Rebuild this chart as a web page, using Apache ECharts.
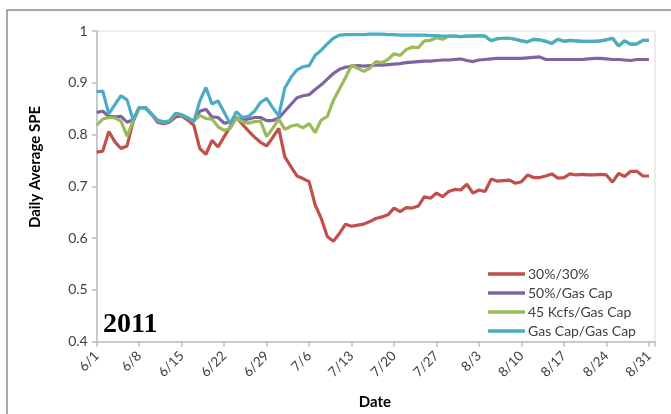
<!DOCTYPE html>
<html><head><meta charset="utf-8">
<script src="https://cdn.jsdelivr.net/npm/echarts@6/dist/echarts.min.js"></script>
<style>html,body{margin:0;padding:0;background:#fff}#c{width:671px;height:414px}</style>
</head><body><div id="c"></div>
<script>
const xTickLabels = ['6/1','6/8','6/15','6/22','6/29','7/6','7/13','7/20','7/27','8/3','8/10','8/17','8/24','8/31'];
const yTickLabels = ['0.4','0.5','0.6','0.7','0.8','0.9','1'];
const seriesNames = ['30%/30%','50%/Gas Cap','45 Kcfs/Gas Cap','Gas Cap/Gas Cap'];
const s30_30 = [.766,.768,.806,.786,.773,.778,.825,.852,.852,.84,.824,.821,.824,.834,.836,.828,.818,.773,.762,.789,.776,.796,.815,.833,.82,.807,.795,.785,.778,.794,.812,.757,.738,.72,.715,.709,.664,.638,.603,.594,.609,.627,.623,.625,.627,.632,.638,.641,.645,.658,.651,.659,.658,.662,.68,.677,.687,.68,.69,.694,.693,.704,.687,.693,.69,.714,.71,.711,.712,.706,.709,.722,.717,.717,.72,.724,.716,.717,.724,.722,.723,.722,.722,.723,.722,.708,.725,.719,.729,.729,.72,.72];
const s50_gas = [.843,.845,.835,.834,.835,.824,.828,.852,.852,.84,.827,.824,.826,.84,.838,.832,.826,.845,.849,.834,.833,.822,.824,.832,.828,.83,.833,.833,.827,.827,.832,.845,.858,.871,.875,.877,.887,.896,.907,.918,.926,.93,.932,.933,.932,.933,.934,.934,.935,.936,.937,.939,.94,.941,.942,.942,.943,.944,.944,.945,.946,.943,.941,.944,.945,.946,.947,.947,.947,.947,.947,.948,.949,.95,.945,.945,.945,.945,.945,.945,.945,.946,.947,.947,.946,.945,.945,.944,.943,.945,.945,.945];
const s45k_gas = [.818,.83,.833,.832,.826,.797,.826,.852,.852,.84,.827,.824,.826,.84,.838,.832,.826,.837,.831,.83,.815,.808,.812,.831,.825,.822,.825,.826,.796,.812,.83,.81,.816,.819,.813,.821,.804,.828,.835,.866,.888,.91,.934,.928,.922,.928,.941,.939,.945,.956,.953,.964,.969,.968,.981,.982,.987,.984,.99,.99,.989,.99,.99,.991,.99,.981,.985,.986,.986,.984,.981,.979,.984,.983,.98,.976,.984,.98,.982,.981,.98,.98,.98,.981,.983,.986,.971,.981,.974,.975,.982,.982];
const sGas_gas = [.883,.884,.84,.858,.875,.867,.828,.852,.852,.84,.828,.824,.826,.841,.838,.832,.825,.865,.891,.859,.865,.843,.821,.844,.833,.835,.845,.862,.87,.852,.836,.89,.91,.925,.931,.933,.953,.963,.975,.986,.992,.993,.993,.993,.993,.994,.994,.994,.993,.993,.992,.992,.992,.992,.992,.991,.991,.99,.99,.99,.989,.99,.99,.991,.99,.981,.985,.986,.986,.984,.981,.979,.984,.983,.98,.976,.984,.98,.982,.981,.98,.98,.98,.981,.983,.986,.971,.981,.974,.975,.982,.982];
const colors = ['#C0504D','#8064A2','#9BBB59','#4BACC6'];
const allSeries = [s30_30, s50_gas, s45k_gas, sGas_gas];

const FONT = 'Lato, "Open Sans", sans-serif';
const chart = echarts.init(document.getElementById('c'), null, {renderer:'canvas'});
chart.setOption({
  animation:false,
  backgroundColor:'#fff',
  grid:{left:96.7, right:16, top:31, bottom:72.3, show:true, borderColor:'#d9d9d9', borderWidth:1, containLabel:false},
  xAxis:{type:'value', min:0, max:92, interval:7,
    axisLine:{show:true, lineStyle:{color:'#bfbfbf', width:1.5}},
    axisTick:{show:true, length:5, lineStyle:{color:'#bfbfbf', width:1.5}},
    splitLine:{show:false},
    axisLabel:{rotate:45, margin:12, color:'#404040', fontFamily:FONT, fontSize:13.5,
      formatter:function(v){ const i=Math.round(v/7); return (v%7===0 && i<xTickLabels.length)? xTickLabels[i] : ''; }}
  },
  yAxis:{type:'value', min:0.4, max:1, interval:0.1,
    axisLine:{show:true, lineStyle:{color:'#bfbfbf', width:1.5}},
    axisTick:{show:true, length:5, lineStyle:{color:'#bfbfbf', width:1.5}},
    splitLine:{show:false},
    axisLabel:{margin:9, color:'#404040', fontFamily:FONT, fontSize:14,
      formatter:function(v){ const i=Math.round((v-0.4)*10); return yTickLabels[i]; }}
  },
  legend:{orient:'vertical', left:483, top:261, icon:'rect', itemWidth:37, itemHeight:3.5, itemGap:3,
    textStyle:{color:'#404040', fontFamily:FONT, fontSize:14, padding:[0,0,0,-2], lineHeight:16},
    data:seriesNames},
  series: allSeries.map((arr,si)=>({
    name:seriesNames[si], type:'line', symbol:'none', smooth:false,
    data:arr.map((v,i)=>[i,v]),
    lineStyle:{color:colors[si], width:3.2}, itemStyle:{color:colors[si]}
  })),
  graphic:[
    {type:'rect', shape:{x:7, y:10, width:800, height:600}, style:{fill:'none', stroke:'#8c8c8c', lineWidth:1.5}, silent:true},
    {type:'text', x:35, y:167, rotation:Math.PI/2, style:{text:'Daily Average SPE', fontFamily:FONT, fontWeight:'bold', fontSize:15, fill:'#000', textAlign:'center', textVerticalAlign:'middle'}},
    {type:'text', x:375, y:402, style:{text:'Date', fontFamily:FONT, fontWeight:'bold', fontSize:15, fill:'#000', textAlign:'center', textVerticalAlign:'middle'}},
    {type:'text', x:103, y:325, style:{text:'2011', fontFamily:'"Liberation Serif", serif', fontWeight:'bold', fontSize:28, fill:'#000', textAlign:'left', textVerticalAlign:'middle'}}
  ]
});
</script></body></html>
